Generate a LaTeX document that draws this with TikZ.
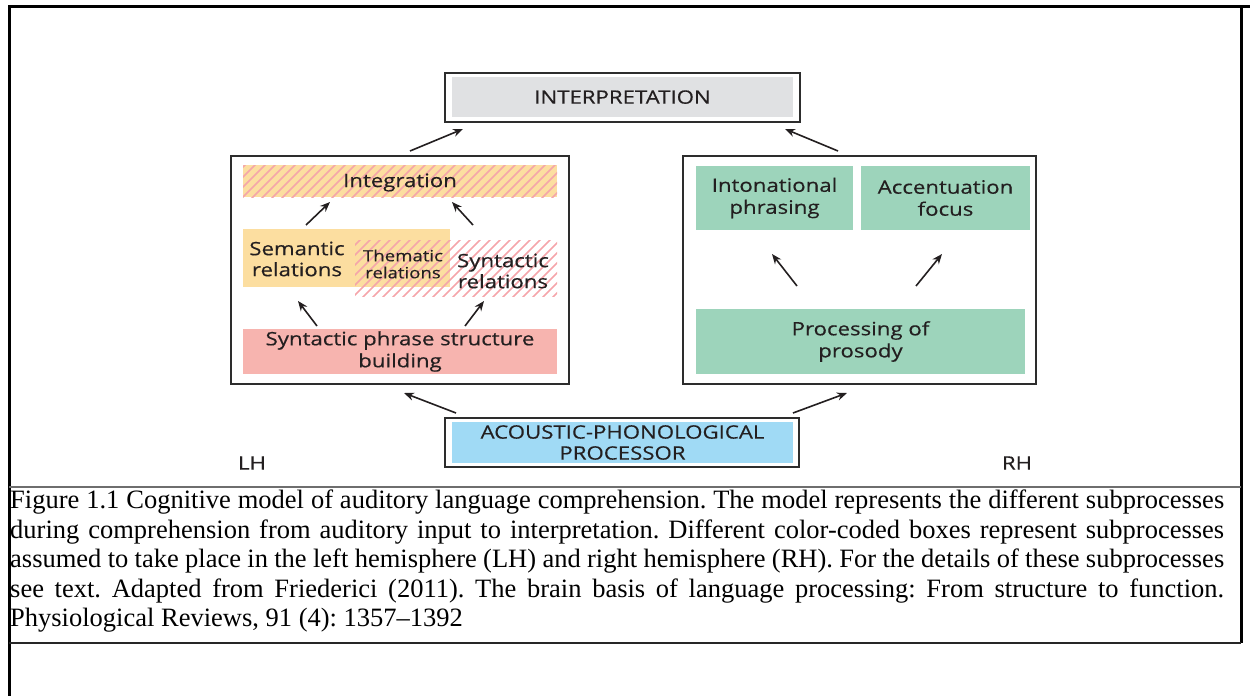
\documentclass[tikz,border=0pt]{standalone}
\usepackage{fontspec}
\setmainfont{Liberation Serif}
\newfontfamily\diag[FakeStretch=1.2,FakeBold=0.4]{Open Sans}
\usetikzlibrary{arrows.meta}
\definecolor{txt}{RGB}{35,31,32}
\definecolor{frm}{RGB}{45,45,45}
\definecolor{grayfill}{RGB}{224,225,227}
\definecolor{orangefill}{RGB}{252,222,160}
\definecolor{pinkfill}{RGB}{247,180,175}
\definecolor{hatchpink}{RGB}{245,165,170}
\definecolor{greenfill}{RGB}{157,212,187}
\definecolor{bluefill}{RGB}{160,218,245}
\definecolor{sepgray}{RGB}{110,110,110}
\tikzset{
  outerbox/.style={draw=frm, line width=2pt, fill=white},
  frame/.style={draw=frm, line width=2pt},
  fillbox/.style={inner sep=0pt, text=txt, align=center, font=\diag\fontsize{18.5}{21}\selectfont},
  lbl/.style={text=txt, font=\diag\fontsize{18.5}{21}\selectfont, align=center, inner sep=0pt},
  arr/.style={line width=1.6pt, draw=txt, -{Stealth[length=10pt,width=8pt]}},
  hatch/.style={draw=hatchpink, line width=1.5pt},
  rule/.style={draw=black, line width=3pt}
}
\begin{document}
\begin{tikzpicture}[x=1pt,y=-1pt]
\useasboundingbox (0,0) rectangle (1250,696);
% page frame
\draw[rule] (8,6) -- (1250,6);
\draw[rule] (9,6) -- (9,696);
\draw[rule] (1241,6) -- (1241,643);
\draw[draw=sepgray, line width=2pt] (9,487) -- (1241,487);
\draw[draw=black!85, line width=1.2pt] (9,643) -- (1241,643);

% interpretation
\node[outerbox, minimum width=355pt, minimum height=49pt] (interpO) at (622.5,97.5) {};
\node[fillbox, fill=grayfill, minimum width=341pt, minimum height=40pt, text depth=0pt] (interp) at (622.5,97) {INTERPRETATION};

% left hemisphere frame
\node[frame, minimum width=338pt, minimum height=228pt] (lh) at (400,270) {};
% integration (orange + hatch)
\fill[orangefill] (243,165) rectangle (557,197);
\begin{scope}
  \clip (243,165) rectangle (557,197);
  \foreach \i in {0,10,...,360} {\draw[hatch] (210+\i,200) -- ++(38,-38);}
\end{scope}
\node[lbl] (integ) at (400,182.5) {Integration};
% semantic (orange)
\fill[orangefill] (243,229) rectangle (450,287);
% syntactic hatch
\begin{scope}
  \clip (355,240) rectangle (557,296);
  \foreach \i in {0,10,...,280} {\draw[hatch] (300+\i,300) -- ++(64,-64);}
\end{scope}
\node[lbl] (sem) at (297,259) {Semantic\\relations};
\node[lbl, font=\diag\fontsize{15.5}{17}\selectfont] (them) at (403,264) {Thematic\\relations};
\node[lbl] (synt) at (503,271) {Syntactic\\relations};
% syntactic phrase structure building
\node[fillbox, fill=pinkfill, minimum width=314pt, minimum height=45pt] (phrase) at (400,351.5) {Syntactic phrase structure\\[1pt]building};

% right hemisphere frame
\node[frame, minimum width=353pt, minimum height=228pt] (rh) at (859.5,270) {};
\node[fillbox, fill=greenfill, minimum width=157pt, minimum height=64pt] (inton) at (774.5,198) {Intonational\\[1pt]phrasing};
\node[fillbox, fill=greenfill, minimum width=169pt, minimum height=64pt] (accent) at (945.5,198) {Accentuation\\[1pt]focus};
\node[fillbox, fill=greenfill, minimum width=329pt, minimum height=65pt] (pros) at (860.5,341.5) {Processing of\\[1pt]prosody};

% acoustic
\node[outerbox, minimum width=354pt, minimum height=49pt] (acouO) at (622,442.5) {};
\node[fillbox, fill=bluefill, minimum width=341pt, minimum height=41pt] (acou) at (622.5,442.5) {ACOUSTIC-PHONOLOGICAL\\PROCESSOR};

\node[lbl] (lhlab) at (252,463) {LH};
\node[lbl] (rhlab) at (1017,463) {RH};

% arrow end points
\coordinate (a1s) at (410,151); \coordinate (a1e) at (463,129);
\coordinate (a2s) at (838,151); \coordinate (a2e) at (785,129);
\coordinate (a3s) at (306,225); \coordinate (a3e) at (330,202);
\coordinate (a4s) at (473,225); \coordinate (a4e) at (452,202);
\coordinate (a5s) at (317,326); \coordinate (a5e) at (298,301);
\coordinate (a6s) at (465,326); \coordinate (a6e) at (484,301);
\coordinate (a7s) at (797,286); \coordinate (a7e) at (772,254);
\coordinate (a8s) at (916,286); \coordinate (a8e) at (942,254);
\coordinate (a9s) at (456,413); \coordinate (a9e) at (404,393);
\coordinate (a10s) at (793,413); \coordinate (a10e) at (847,393);
\foreach \k in {1,...,10} {\draw[arr] (a\k s) -- (a\k e);}

% caption
\node[anchor=north west, inner sep=0pt, text width=1214pt, align=justify,
      font=\fontsize{26.5}{29.5}\selectfont\frenchspacing, text=black] (cap) at (10,490)
{Figure 1.1 Cognitive model of auditory language comprehension. The model represents the different subprocesses\linebreak
during comprehension from auditory input to interpretation. Different color-coded boxes represent subprocesses\linebreak
assumed to take place in the left hemisphere (LH) and right hemisphere (RH). For the details of these subprocesses\linebreak
see text. Adapted from Friederici (2011). The brain basis of language processing: From structure to function.\linebreak
Physiological Reviews, 91 (4): 1357--1392};
\end{tikzpicture}
\end{document}
